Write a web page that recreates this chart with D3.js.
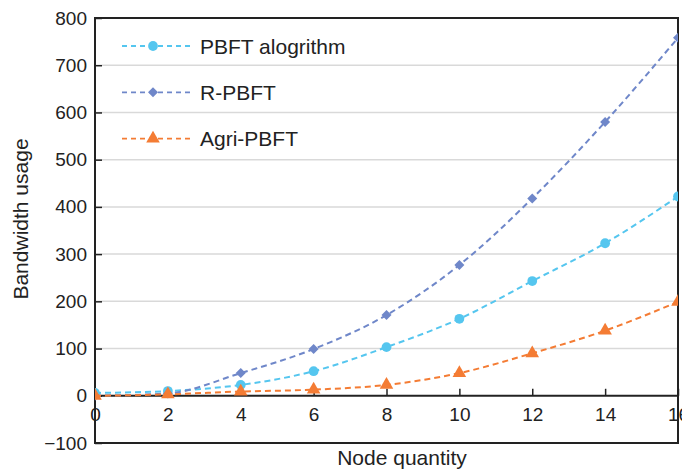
<!DOCTYPE html>
<html>
<head>
<meta charset="utf-8">
<script src="https://cdn.jsdelivr.net/npm/d3@7"></script>
<style>
  body { margin: 0; background: #fff; }
  svg { font-family: "Liberation Sans", Arial, sans-serif; }
</style>
</head>
<body>
<svg id="chart" width="682" height="473"></svg>
<script>
const nodes = [0, 2, 4, 6, 8, 10, 12, 14, 16];
const pbft = [6, 10, 23, 52, 103, 163, 243, 323, 422];
const rpbft = [0, 5, 48, 99, 171, 277, 418, 580, 758];
const agri = [0, 3, 9, 13, 23, 48, 90, 138, 199];
const xTicks = [0, 2, 4, 6, 8, 10, 12, 14, 16];
const yTicks = [-100, 0, 100, 200, 300, 400, 500, 600, 700, 800];

const series = [
    { name: "PBFT alogrithm", values: pbft, color: "#55c6ef", shape: d3.symbolCircle, size: 75, rot: 0 },
    { name: "R-PBFT", values: rpbft, color: "#6f87c9", shape: d3.symbolSquare, size: 50, rot: 45 },
    { name: "Agri-PBFT", values: agri, color: "#f47c34", shape: d3.symbolTriangle, size: 80, rot: 0 }
];

const margin = { left: 95, right: 4, top: 18, bottom: 30 };
const width = 682 - margin.left - margin.right;
const height = 473 - margin.top - margin.bottom;

const x = d3.scaleLinear().domain([0, 16]).range([0, width]);
const y = d3.scaleLinear().domain([-100, 800]).range([height, 0]);

const svg = d3.select("#chart");
const g = svg.append("g").attr("transform", `translate(${margin.left},${margin.top})`);

g.append("defs").append("clipPath").attr("id", "plot")
    .append("rect").attr("width", width).attr("height", height);

// grid
g.selectAll(".grid").data(yTicks.filter(d => d > 0 && d < 800)).enter()
    .append("line")
    .attr("x1", 0).attr("x2", width)
    .attr("y1", d => y(d)).attr("y2", d => y(d))
    .attr("stroke", "#d9d9d9").attr("stroke-width", 1.5);

// y axis
const yAxis = g.append("g")
    .call(d3.axisLeft(y).tickValues(yTicks).tickSize(-7).tickPadding(8)
        .tickFormat(d => d < 0 ? "\u2212" + Math.abs(d) : d));
yAxis.select(".domain").remove();
yAxis.selectAll("line").attr("stroke", "#222").attr("stroke-width", 1.5);
yAxis.selectAll("text").attr("font-size", 19).attr("fill", "#222");

// x axis at zero
const xAxis = g.append("g").attr("transform", `translate(0,${y(0)})`)
    .call(d3.axisBottom(x).tickValues(xTicks).tickSize(-7).tickPadding(12));
xAxis.select(".domain").remove();
xAxis.selectAll("line").attr("stroke", "#222").attr("stroke-width", 1.5);
xAxis.selectAll("text").attr("font-size", 19).attr("fill", "#222");
g.append("line").attr("x1", 0).attr("x2", width)
    .attr("y1", y(0)).attr("y2", y(0))
    .attr("stroke", "#222").attr("stroke-width", 2);

// frame
g.append("rect").attr("width", width).attr("height", height)
    .attr("fill", "none").attr("stroke", "#222").attr("stroke-width", 2);

// series
const line = d3.line()
    .x((d, i) => x(nodes[i]))
    .y(d => y(d))
    .curve(d3.curveMonotoneX);

const plot = g.append("g").attr("clip-path", "url(#plot)");
series.forEach(s => {
    plot.append("path")
        .datum(s.values)
        .attr("d", line)
        .attr("fill", "none")
        .attr("stroke", s.color)
        .attr("stroke-width", 2)
        .attr("stroke-dasharray", "6,4");
    plot.selectAll(null).data(s.values).enter()
        .append("path")
        .attr("d", d3.symbol().type(s.shape).size(s.size))
        .attr("transform", (d, i) => `translate(${x(nodes[i])},${y(d)}) rotate(${s.rot})`)
        .attr("fill", s.color);
});

// legend
const legend = g.append("g").attr("transform", "translate(27,28)");
series.forEach((s, i) => {
    const row = legend.append("g").attr("transform", `translate(0,${i * 46.3})`);
    row.append("line").attr("x1", 0).attr("x2", 68)
        .attr("stroke", s.color).attr("stroke-width", 1.8).attr("stroke-dasharray", "5,4");
    row.append("path").attr("d", d3.symbol().type(s.shape).size(s.size))
        .attr("transform", `translate(31,0) rotate(${s.rot})`).attr("fill", s.color);
    row.append("text").attr("x", 78).attr("dy", "0.36em")
        .attr("font-size", 21).attr("fill", "#222").text(s.name);
});

// axis titles
svg.append("text")
    .attr("x", 402).attr("y", 465)
    .attr("text-anchor", "middle").attr("font-size", 21).attr("fill", "#222")
    .text("Node quantity");
svg.append("text")
    .attr("transform", "translate(28,219) rotate(-90)")
    .attr("text-anchor", "middle").attr("font-size", 21).attr("fill", "#222")
    .text("Bandwidth usage");
</script>
</body>
</html>
